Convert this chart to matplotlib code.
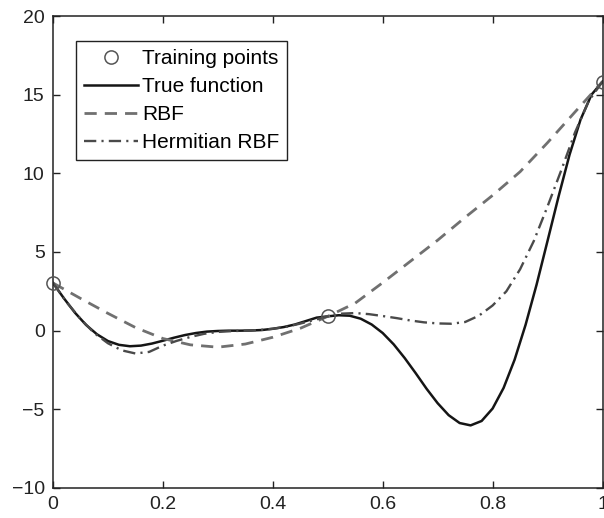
import matplotlib

matplotlib.use("Agg")
import matplotlib.pyplot as plt
import numpy as np

plt.rcParams["font.family"] = ["Liberation Sans", "DejaVu Sans"]
plt.rcParams["font.size"] = 14

# sample points (x, y)
train_x = [0.0, 0.5, 1.0]
train_y = [3.03, 0.91, 15.83]

# true function, step 0.02
true_x = np.linspace(0.0, 1.0, 51)
true_y = [
    3.03, 2.05, 1.14, 0.37, -0.23, -0.66, -0.90, -0.99, -0.95, -0.82,
    -0.64, -0.45, -0.28, -0.15, -0.06, -0.02, 0.00, 0.00, 0.01, 0.04,
    0.12, 0.23, 0.39, 0.61, 0.83, 0.91, 0.98, 0.95, 0.76, 0.39,
    -0.15, -0.87, -1.74, -2.70, -3.70, -4.61, -5.37, -5.87, -6.02, -5.74,
    -4.95, -3.64, -1.85, 0.37, 2.92, 5.71, 8.52, 11.18, 13.41, 15.00,
    15.83,
]

# plain RBF fit, step 0.05
rbf_x = np.linspace(0.0, 1.0, 21)
rbf_y = [
    3.03, 2.05, 1.10, 0.20, -0.50, -0.90, -1.05, -0.85, -0.42, 0.15,
    0.91, 1.75, 3.05, 4.40, 5.75, 7.20, 8.60, 10.10, 11.95, 13.90,
    15.83,
]

# Hermitian RBF fit (uses gradients too), step 0.025
herm_x = np.linspace(0.0, 1.0, 41)
herm_y = [
    3.03, 1.80, 0.75, -0.15, -0.80, -1.25, -1.45, -1.35, -0.95, -0.65,
    -0.40, -0.20, -0.08, -0.03, 0.00, 0.04, 0.12, 0.25, 0.45, 0.68,
    0.91, 1.08, 1.12, 1.05, 0.93, 0.80, 0.65, 0.53, 0.46, 0.44,
    0.55, 0.95, 1.60, 2.50, 3.90, 5.70, 7.90, 10.20, 12.60, 14.60,
    15.83,
]

fig = plt.figure(figsize=(6.04, 5.18), dpi=100)
ax = fig.add_axes([53 / 604, 30 / 518, 549.5 / 604, 472 / 518])

ax.plot(train_x, train_y, linestyle="none", marker="o", markersize=9.5,
        markerfacecolor="none", markeredgecolor="#555555", markeredgewidth=1.1,
        label="Training points", clip_on=False, zorder=5)
ax.plot(true_x, true_y, color="#151515", lw=1.8, label="True function")
ax.plot(rbf_x, rbf_y, color="#707070", lw=2.0, linestyle=(0, (4.4, 2.9)),
        label="RBF")
ax.plot(herm_x, herm_y, color="#4a4a4a", lw=1.7,
        linestyle=(0, (5.2, 2.2, 0.9, 2.2)), label="Hermitian RBF")

ax.set_xlim(0, 1)
ax.set_ylim(-10, 20)
ax.set_xticks([0, 0.2, 0.4, 0.6, 0.8, 1])
ax.set_xticklabels(["0", "0.2", "0.4", "0.6", "0.8", "1"])
ax.set_yticks([-10, -5, 0, 5, 10, 15, 20])
ax.set_yticklabels(["\u221210", "\u22125", "0", "5", "10", "15", "20"])
ax.tick_params(direction="in", length=5, width=1.0, top=True, right=True,
               pad=6, colors="#222222")
for side in ax.spines.values():
    side.set_linewidth(1.1)
    side.set_color("#222222")

leg = ax.legend(loc="upper left", bbox_to_anchor=(0.042, 0.947),
                borderaxespad=0, fancybox=False, edgecolor="#222222",
                framealpha=1, numpoints=1, fontsize=15, handlelength=2.6,
                handletextpad=0.2, labelspacing=0.44, borderpad=0.38)
leg.get_frame().set_linewidth(1.0)

fig.savefig("out.png", dpi=100)
